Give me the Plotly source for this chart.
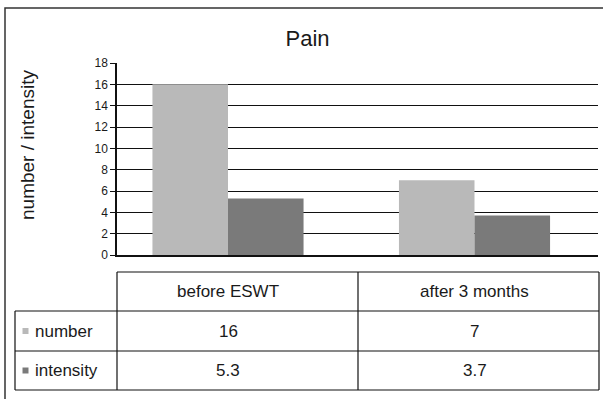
import plotly.graph_objects as go

# ---- data ----
categories = ["before ESWT", "after 3 months"]
series_names = ["number", "intensity"]
number_vals = [16, 7]
intensity_vals = [5.3, 3.7]
number_labels = ["16", "7"]
intensity_labels = ["5.3", "3.7"]
y_ticks = list(range(0, 20, 2))
title_text = "Pain"
y_title = "number / intensity"

colors = ["#b9b9b9", "#7a7a7a"]
FONT = "Liberation Sans, Arial, sans-serif"

W, H = 603, 399
L, R, T, B = 117, 5, 63, 144
PW = W - L - R
PH = H - T - B


def xp(px):
    return (px - L) / PW


def yp(py):
    return (H - B - py) / PH


fig = go.Figure()
series_vals = [number_vals, intensity_vals]
for name, vals, c in zip(series_names, series_vals, colors):
    fig.add_trace(go.Bar(x=categories, y=vals, name=name,
                         marker=dict(color=c, line=dict(width=0)),
                         showlegend=False, hoverinfo="skip"))

# empty helper trace to host the gridline axis
fig.add_trace(go.Scatter(x=[], y=[], yaxis="y2", showlegend=False))

grid_vals = y_ticks[1:-1]

fig.update_layout(
    width=W, height=H,
    margin=dict(l=L, r=R, t=T, b=B),
    paper_bgcolor="white", plot_bgcolor="rgba(0,0,0,0)",
    barmode="group", bargap=0.387, bargroupgap=0,
    font=dict(family=FONT, color="#1a1a1a"),
    title=dict(text=title_text, x=307.5 / W, xanchor="center",
               y=1 - 38 / H, yanchor="middle",
               font=dict(size=22, family=FONT, color="#1a1a1a")),
    xaxis=dict(range=[-0.4503, 1.5010], showticklabels=False, ticks="",
               showline=True, linecolor="#111", linewidth=1.5,
               showgrid=False, zeroline=False, fixedrange=True),
    yaxis=dict(range=[0, 18], tickvals=y_ticks, ticks="outside", ticklen=5,
               tickcolor="#111", tickwidth=1, showline=True, linecolor="#111",
               linewidth=1.5, showgrid=False, zeroline=False,
               tickfont=dict(size=12, family=FONT, color="#1a1a1a")),
    yaxis2=dict(range=[0, 18], overlaying="y", tickvals=grid_vals,
                showticklabels=False, ticks="", showgrid=True,
                gridcolor="#111", gridwidth=1, zeroline=False, showline=False),
)

# y axis title as annotation
fig.add_annotation(text=y_title, xref="paper", yref="paper",
                   x=xp(27), y=yp(145), textangle=-90, showarrow=False,
                   xanchor="center", yanchor="middle",
                   font=dict(size=19, family=FONT, color="#1a1a1a"))

shapes = []
line = dict(color="#111", width=1.2)
# outer frame (cut off on right and bottom)
shapes.append(dict(type="rect", xref="paper", yref="paper",
                   x0=xp(5), x1=xp(615), y0=yp(415), y1=yp(8),
                   line=dict(color="#333", width=1.5), layer="below"))
# table
top, r1, r2, r3 = 272, 311, 351, 390
left_lbl, left_tbl, right_tbl = 15, L, 599
shapes.append(dict(type="line", xref="paper", yref="paper",
                   x0=xp(left_tbl), x1=xp(right_tbl), y0=yp(top), y1=yp(top), line=line))
for ry in (r1, r2, r3):
    shapes.append(dict(type="line", xref="paper", yref="paper",
                       x0=xp(left_lbl), x1=xp(right_tbl), y0=yp(ry), y1=yp(ry), line=line))
for cx in (left_tbl, (left_tbl + right_tbl) / 2, right_tbl):
    shapes.append(dict(type="line", xref="paper", yref="paper",
                       x0=xp(cx), x1=xp(cx), y0=yp(top), y1=yp(r3), line=line))
shapes.append(dict(type="line", xref="paper", yref="paper",
                   x0=xp(left_lbl), x1=xp(left_lbl), y0=yp(r1), y1=yp(r3), line=line))

# legend keys in row label cells
row_mid = [(r1 + r2) / 2, (r2 + r3) / 2]
for c, ym in zip(colors, row_mid):
    shapes.append(dict(type="rect", xref="paper", yref="paper",
                       x0=xp(22.5), x1=xp(28.5), y0=yp(ym + 3), y1=yp(ym - 3),
                       fillcolor=c, line=dict(width=0)))
fig.update_layout(shapes=shapes)

tf = dict(size=17, family=FONT, color="#1a1a1a")
# header
for cat in categories:
    fig.add_annotation(text=cat, xref="x", yref="paper", x=cat, y=yp((top + r1) / 2),
                       showarrow=False, xanchor="center", yanchor="middle", font=tf)
# rows
row_labels = [number_labels, intensity_labels]
for name, labels, ym in zip(series_names, row_labels, row_mid):
    fig.add_annotation(text=name, xref="paper", yref="paper", x=xp(33), y=yp(ym),
                       showarrow=False, xanchor="left", yanchor="middle", font=tf)
    for cat, lab in zip(categories, labels):
        fig.add_annotation(text=lab, xref="x", yref="paper", x=cat, y=yp(ym),
                           showarrow=False, xanchor="center", yanchor="middle", font=tf)

fig.write_html("out.html", config={"displayModeBar": False},
               post_script="document.body.style.margin='0';document.body.style.overflow='hidden';")
